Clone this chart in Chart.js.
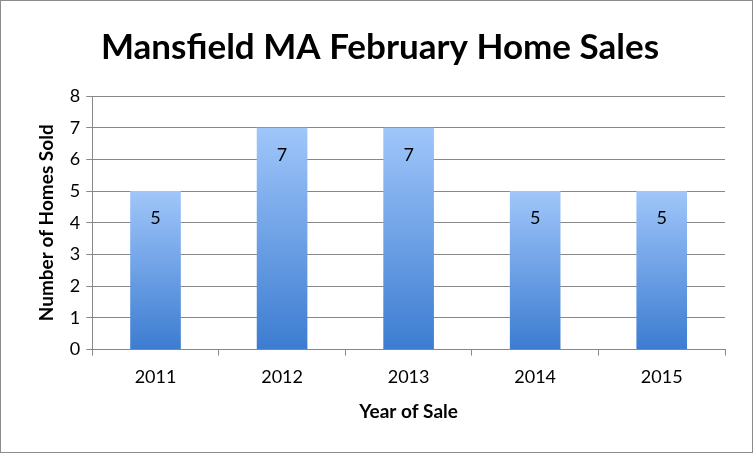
<!DOCTYPE html>
<html>
<head>
<meta charset="utf-8">
<script src="https://cdn.jsdelivr.net/npm/chart.js@4/dist/chart.umd.min.js"></script>
<style>
  html, body { margin: 0; padding: 0; background: #fff; }
  #wrap { width: 751px; height: 451px; border: 1px solid #8c8c8c; }
</style>
</head>
<body>
<div id="wrap"><canvas id="chart" width="751" height="451"></canvas></div>
<script>
// ---- Data ----
const years  = ['2011', '2012', '2013', '2014', '2015']
const sold   = [5, 7, 7, 5, 5]
const yTicks = [0, 1, 2, 3, 4, 5, 6, 7, 8]

const FONT = 'Lato, "Open Sans", sans-serif'

// per-bar vertical gradient, light at top, darker at bottom
function barFill(ctx) {
  const chart = ctx.chart
  if (!chart.chartArea) return '#6a9fe6'
  const y = chart.scales.y
  const top = y.getPixelForValue(sold[ctx.dataIndex])
  const bottom = y.getPixelForValue(0)
  const g = chart.ctx.createLinearGradient(0, top, 0, bottom)
  g.addColorStop(0, '#a0c6fa')
  g.addColorStop(1, '#3c7cd1')
  return g
}

// value labels inside the bar, near the top
const valueLabels = {
  id: 'valueLabels',
  afterDatasetsDraw(chart) {
    const c = chart.ctx
    const meta = chart.getDatasetMeta(0)
    c.save()
    c.font = '18px ' + FONT
    c.fillStyle = '#000'
    c.textAlign = 'center'
    c.textBaseline = 'middle'
    meta.data.forEach((bar, i) => {
      c.fillText(String(sold[i]), bar.x, bar.y + 27)
    })
    c.restore()
  }
}

new Chart(document.getElementById('chart'), {
  type: 'bar',
  data: {
    labels: years,
    datasets: [{
      data: sold,
      backgroundColor: barFill,
      borderWidth: 0,
      categoryPercentage: 1,
      barPercentage: 0.4
    }]
  },
  options: {
    responsive: false,
    animation: false,
    layout: { padding: { left: 34, right: 27, top: 8, bottom: 29 } },
    plugins: {
      legend: { display: false },
      tooltip: { enabled: false },
      title: {
        display: true,
        text: 'Mansfield MA February Home Sales',
        color: '#000',
        font: { family: FONT, size: 35, weight: 'bold' },
        padding: { top: 18, bottom: 27 }
      }
    },
    scales: {
      x: {
        grid: { drawOnChartArea: false, tickLength: 6, color: '#888' },
        border: { color: '#888' },
        ticks: { color: '#000', font: { family: FONT, size: 18 }, padding: 11 },
        title: {
          display: true, text: 'Year of Sale', color: '#000',
          font: { family: FONT, size: 19, weight: 'bold' }, padding: { top: 1, bottom: 0 }
        }
      },
      y: {
        min: 0, max: 8,
        afterBuildTicks: axis => { axis.ticks = yTicks.map(v => ({ value: v })) },
        grid: { color: '#888', tickLength: 6 },
        border: { color: '#888' },
        ticks: { color: '#000', font: { family: FONT, size: 18 }, padding: 6 },
        title: {
          display: true, text: 'Number of Homes Sold', color: '#000',
          font: { family: FONT, size: 19, weight: 'bold' }, padding: { top: 0, bottom: 6 }
        }
      }
    }
  },
  plugins: [valueLabels]
})
</script>
</body>
</html>
